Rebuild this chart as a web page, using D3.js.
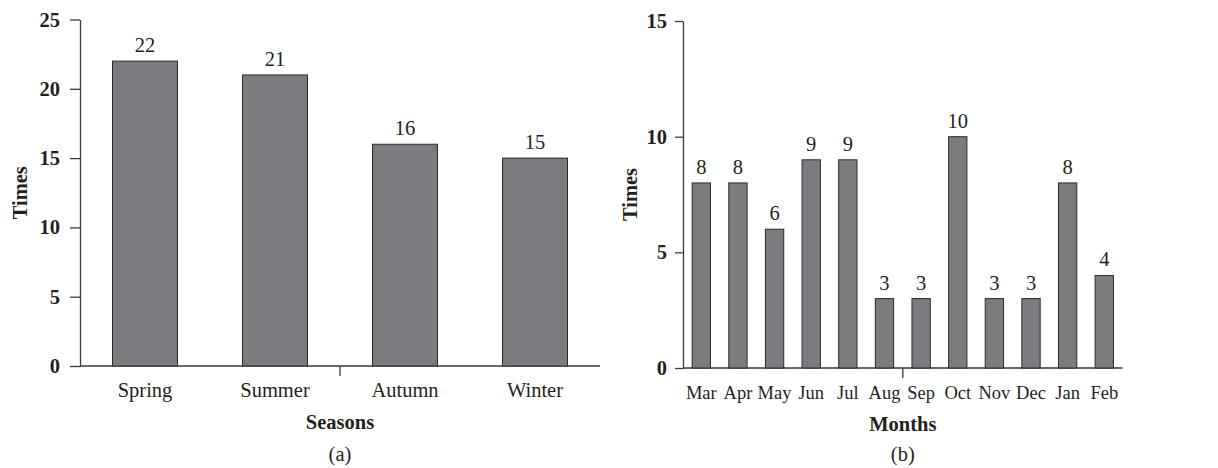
<!DOCTYPE html>
<html>
<head>
<meta charset="utf-8">
<script src="https://cdn.jsdelivr.net/npm/d3@7"></script>
<style>
  html, body { margin: 0; padding: 0; background: #fff; }
  svg { display: block; }
  text { font-family: "Liberation Serif", "Times New Roman", serif; fill: #231f20; }
</style>
</head>
<body>
<svg id="chart" width="1218" height="468"></svg>
<script>
// Panel (a): seasons
const seasons = ["Spring", "Summer", "Autumn", "Winter"];
const seasonTimes = [22, 21, 16, 15];
const seasonTicks = [0, 5, 10, 15, 20, 25];

// Panel (b): months
const months = ["Mar", "Apr", "May", "Jun", "Jul", "Aug", "Sep", "Oct", "Nov", "Dec", "Jan", "Feb"];
const monthTimes = [8, 8, 6, 9, 9, 3, 3, 10, 3, 3, 8, 4];
const monthTicks = [0, 5, 10, 15];

const svg = d3.select("#chart");
const FILL = "#7b7c80", STROKE = "#2b2b2b", AXIS = "#3a3a3a";
const FS = 20.5;

function panel(opt) {
  const g = svg.append("g");
  const x = d3.scaleBand().domain(opt.cats).range([opt.x0, opt.x1]).paddingInner(0.5).paddingOuter(0.25);
  const y = d3.scaleLinear().domain([0, opt.ymax]).range([opt.y0, opt.y1]);

  // y axis
  const ya = g.append("g").attr("transform", `translate(${opt.x0},0)`)
    .call(d3.axisLeft(y).tickValues(opt.ticks).tickSize(opt.tick).tickPadding(opt.pad).tickSizeOuter(0));
  ya.select(".domain").attr("stroke", AXIS).attr("stroke-width", 1.3);
  ya.selectAll(".tick line").attr("stroke", AXIS).attr("stroke-width", 1.3);
  ya.selectAll(".tick text").style("font-family", '"Liberation Serif", serif')
    .style("font-weight", "bold").style("font-size", FS + "px").attr("fill", "#231f20");

  // x axis line
  g.append("line").attr("x1", opt.x0).attr("x2", opt.x1).attr("y1", y(0)).attr("y2", y(0))
    .attr("stroke", AXIS).attr("stroke-width", 1.3);
  // single middle tick
  const mid = (x.range()[0] + x.range()[1]) / 2;
  g.append("line").attr("x1", mid).attr("x2", mid).attr("y1", y(0)).attr("y2", y(0) + 10)
    .attr("stroke", AXIS).attr("stroke-width", 1.3);

  // bars
  g.selectAll("rect.bar").data(opt.vals).join("rect").attr("class", "bar")
    .attr("x", (d, i) => x(opt.cats[i]))
    .attr("width", x.bandwidth())
    .attr("y", d => y(d))
    .attr("height", d => y(0) - y(d))
    .attr("fill", FILL).attr("stroke", STROKE).attr("stroke-width", 1);

  // value labels
  g.selectAll("text.val").data(opt.vals).join("text").attr("class", "val")
    .attr("x", (d, i) => x(opt.cats[i]) + x.bandwidth() / 2)
    .attr("y", d => y(d) - 9)
    .attr("text-anchor", "middle").style("font-size", FS + "px")
    .text(d => d);

  // category labels
  g.selectAll("text.cat").data(opt.cats).join("text").attr("class", "cat")
    .attr("x", d => x(d) + x.bandwidth() / 2)
    .attr("y", y(0) + 31)
    .attr("text-anchor", "middle").style("font-size", opt.catFS + "px")
    .text(d => d);

  // axis titles
  g.append("text").attr("x", mid).attr("y", y(0) + 63).attr("text-anchor", "middle")
    .style("font-size", FS + "px").style("font-weight", "bold").text(opt.xtitle);
  g.append("text").attr("transform", `translate(${opt.ytx},${(opt.y0 + opt.y1) / 2}) rotate(-90)`)
    .attr("text-anchor", "middle").style("font-size", FS + "px").style("font-weight", "bold").text("Times");
  g.append("text").attr("x", mid).attr("y", 461).attr("text-anchor", "middle")
    .style("font-size", FS + "px").text(opt.caption);
}

panel({ cats: seasons, vals: seasonTimes, ticks: seasonTicks, ymax: 25, catFS: 20.5,
  x0: 80, x1: 600, y0: 366, y1: 19.5, tick: 10, pad: 10, ytx: 27, xtitle: "Seasons", caption: "(a)" });
panel({ cats: months, vals: monthTimes, ticks: monthTicks, ymax: 15, catFS: 18.5,
  x0: 683, x1: 1122.6, y0: 368, y1: 21, tick: 8, pad: 8, ytx: 637, xtitle: "Months", caption: "(b)" });
</script>
</body>
</html>
